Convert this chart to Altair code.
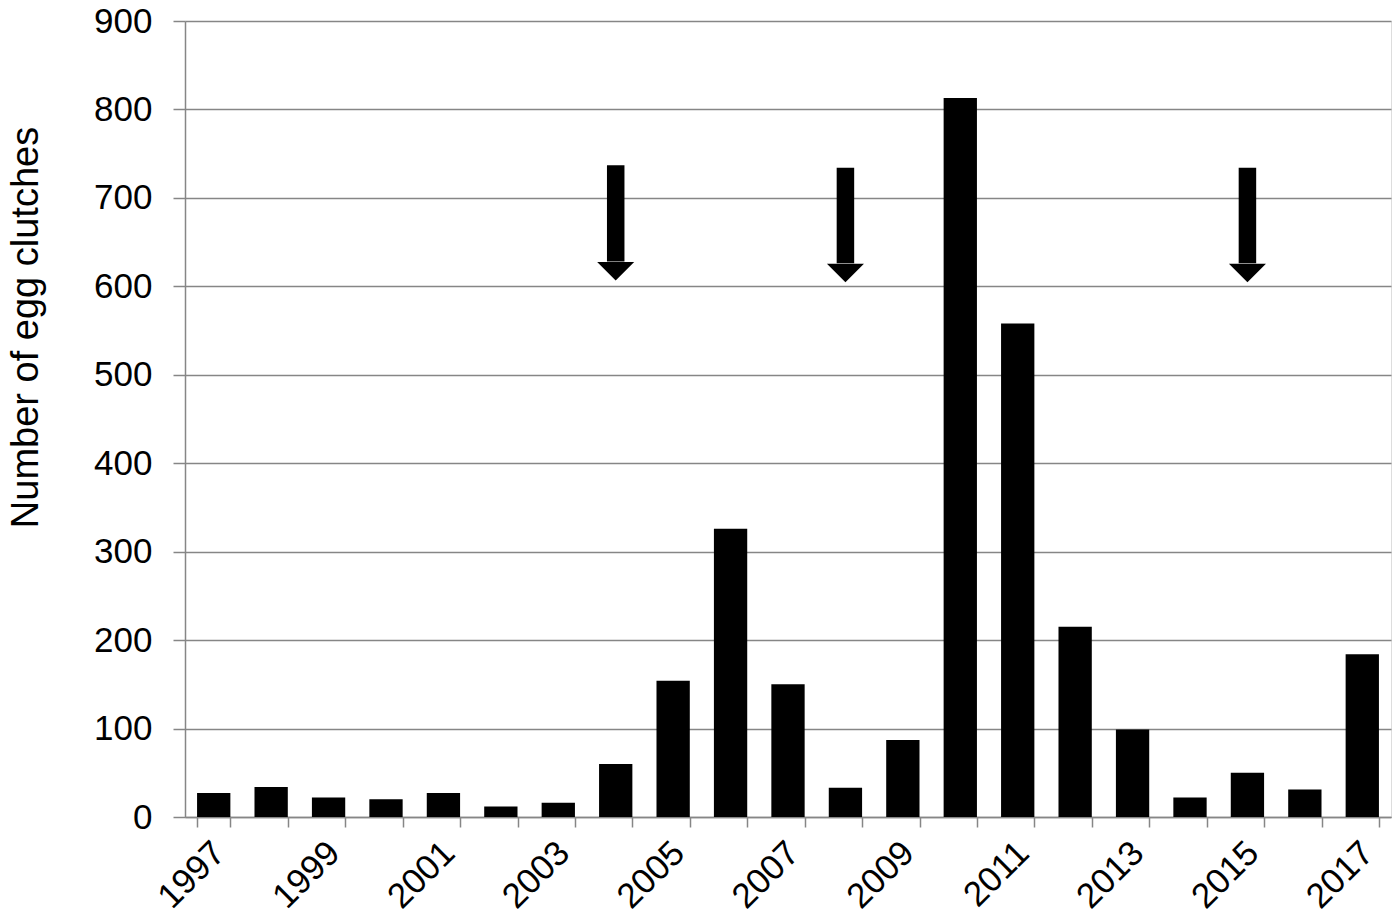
import altair as alt
import pandas as pd

years = [str(y) for y in range(1997, 2018)]
clutches = [27, 34, 22, 20, 27, 12, 16, 60, 154, 326, 150, 33, 87, 813, 558, 215, 99, 22, 50, 31, 184]

arrow_years = ["2004", "2008", "2015"]
arrow_top = [737, 734, 734]
arrow_base = [628, 626, 626]
arrow_head = [617, 615, 615]

bars_df = pd.DataFrame({"year": years, "value": clutches})
arrows_df = pd.DataFrame({"year": arrow_years, "top": arrow_top, "base": arrow_base, "head": arrow_head})

FONT = "Liberation Sans"
GREY = "#868686"
YTITLE = "Number of egg clutches"

xscale = alt.Scale(domain=years, paddingInner=0.42, paddingOuter=0.21)
yscale = alt.Scale(domain=[0, 900], nice=False, zero=True)

xaxis = alt.Axis(
    title=None, labelAngle=-45, labelAlign="right", labelBaseline="middle",
    labelFont=FONT, labelFontSize=35, labelColor="black", labelPadding=20, labelOffset=5,
    labelExpr="toNumber(datum.value) % 2 == 1 ? datum.value : ''",
    labelOverlap=False, tickBand="extent", tickSize=10, tickColor=GREY, tickWidth=1.5,
    domainColor=GREY, domainWidth=1.5, grid=False,
)
yaxis = alt.Axis(
    title=YTITLE, titleFont=FONT, titleFontSize=38, titleFontWeight="normal", titleColor="black",
    titleAngle=-90, titleAlign="center", titleBaseline="alphabetic", titleX=-148, titleY=306,
    values=list(range(0, 901, 100)),
    labelFont=FONT, labelFontSize=35, labelColor="black", labelPadding=21,
    tickSize=12, tickColor=GREY, tickWidth=1.5, domainColor=GREY, domainWidth=1.5,
    grid=True, gridColor=GREY, gridWidth=1.5,
)

bars = alt.Chart(bars_df).mark_bar(color="black").encode(
    x=alt.X("year:N", scale=xscale, axis=xaxis, sort=years),
    y=alt.Y("value:Q", scale=yscale, axis=yaxis),
)

shafts = alt.Chart(arrows_df).mark_rule(color="black", strokeWidth=17.5).encode(
    x=alt.X("year:N", sort=years),
    y=alt.Y("top:Q", title=YTITLE),
    y2="base:Q",
)

heads = alt.Chart(arrows_df).mark_point(
    shape="M-1,-0.5L1,-0.5L0,0.5Z", filled=True, fill="black", opacity=1, size=1369
).encode(
    x=alt.X("year:N", sort=years),
    y=alt.Y("head:Q", title=YTITLE),
)

chart = alt.layer(bars, shafts, heads).properties(
    width=1206, height=796,
    autosize=alt.AutoSizeParams(type="none"),
    padding={"left": 177, "top": 13, "right": 1, "bottom": 98},
).configure_view(stroke=None).configure(background="white")

chart.save("out.html", embed_options={"renderer": "svg", "actions": False})
